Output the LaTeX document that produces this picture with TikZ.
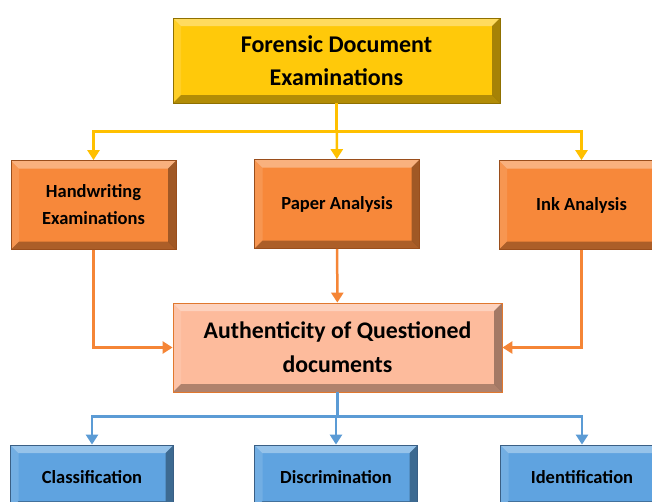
\documentclass[tikz,border=0pt]{standalone}
\usepackage{fontspec}
\setmainfont{Carlito}
\usepackage{tikz}
\usetikzlibrary{arrows.meta, positioning}

\definecolor{goldfill}{HTML}{FFC90A}
\definecolor{golddraw}{HTML}{8F7000}
\definecolor{orangefill}{HTML}{F7883A}
\definecolor{orangedraw}{HTML}{9A4E1C}
\definecolor{peachfill}{HTML}{FDBB9C}
\definecolor{peachdraw}{HTML}{E0782F}
\definecolor{bluefill}{HTML}{5FA3E0}
\definecolor{bluedraw}{HTML}{3A5F85}
\definecolor{yline}{HTML}{FFC000}
\definecolor{oline}{HTML}{F58536}
\definecolor{bline}{HTML}{5B9BD5}

\tikzset{
  bevel/.style 2 args={draw=#2, fill=#1, line width=0.8pt, align=center, font=\bfseries,
    inner sep=0pt,
    path picture={
      \fill[white, opacity=0.35] (path picture bounding box.north west) -- (path picture bounding box.north east)
        -- ([xshift=-8pt,yshift=-8pt]path picture bounding box.north east) -- ([xshift=8pt,yshift=-8pt]path picture bounding box.north west) -- cycle;
      \fill[white, opacity=0.12] (path picture bounding box.north west) -- ([xshift=8pt,yshift=-8pt]path picture bounding box.north west)
        -- ([xshift=8pt,yshift=8pt]path picture bounding box.south west) -- (path picture bounding box.south west) -- cycle;
      \fill[black, opacity=0.35] (path picture bounding box.north east) -- ([xshift=-8pt,yshift=-8pt]path picture bounding box.north east)
        -- ([xshift=-8pt,yshift=8pt]path picture bounding box.south east) -- (path picture bounding box.south east) -- cycle;
      \fill[black, opacity=0.3] (path picture bounding box.south west) -- ([xshift=8pt,yshift=8pt]path picture bounding box.south west)
        -- ([xshift=-8pt,yshift=8pt]path picture bounding box.south east) -- (path picture bounding box.south east) -- cycle;
    }},
  topbox/.style={bevel={goldfill}{golddraw}, minimum width=327pt, minimum height=85pt, font=\bfseries\fontsize{24}{33}\selectfont},
  midbox/.style={bevel={orangefill}{orangedraw}, minimum width=165pt, minimum height=89pt, font=\bfseries\fontsize{18.5}{27}\selectfont},
  authbox/.style={bevel={peachfill}{peachdraw}, minimum width=329pt, minimum height=89pt, font=\bfseries\fontsize{23.8}{34}\selectfont},
  lowbox/.style={bevel={bluefill}{bluedraw}, minimum width=163pt, minimum height=64pt, font=\bfseries\fontsize{18.5}{20}\selectfont},
  arr/.style={line width=2.5pt, -{Triangle[length=10pt,width=12pt]}}
}

\begin{document}
\begin{tikzpicture}[x=1pt, y=-1pt]
		\useasboundingbox (0,0) rectangle (652,501);
		\clip (0,0) rectangle (652,501);
		\draw (336.5,60.5) node[topbox] (fde) {Forensic Document\\Examinations}
		(93.5,205) node[midbox] (hand) {Handwriting\\Examinations}
		(337,204) node[midbox] (paper) {Paper Analysis}
		(581.5,205) node[midbox] (ink) {Ink Analysis}
		(337.5,347.5) node[authbox] (auth) {Authenticity of Questioned\\documents}
		(92,477) node[lowbox] (clas) {Classification}
		(336,477) node[lowbox] (disc) {Discrimination}
		(582,477) node[lowbox] (ident) {Identification};
		
		\draw[arr, yline] (fde.south) -- ++(0,28) -| (hand.north);
		\draw[arr, yline] (fde) -- (paper);
		\draw[arr, yline] (fde.south) -- ++(0,28) -| (ink.north);
		\draw[arr, oline] (hand.south) |- (auth.west);
		\draw[arr, oline] (paper) -- (auth);
		\draw[arr, oline] (ink.south) |- (auth.east);
		\draw[arr, bline] (auth.south) -- ++(0,24) -| (clas.north);
		\draw[arr, bline] (auth.south) -- ++(0,24) -| (disc.north);
		\draw[arr, bline] (auth.south) -- ++(0,24) -| (ident.north);
	\end{tikzpicture}
\end{document}
